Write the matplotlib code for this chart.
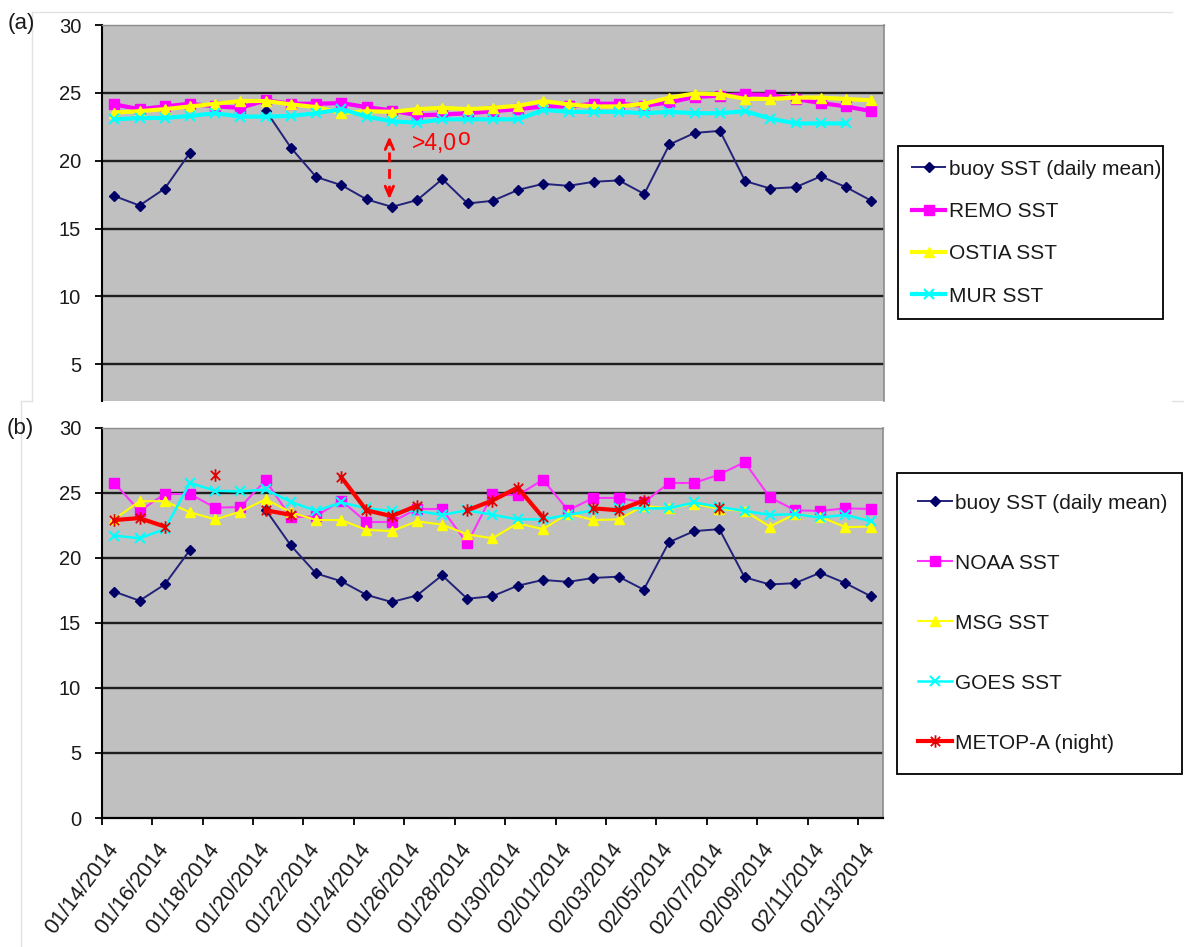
import matplotlib
matplotlib.use("Agg")
import matplotlib.pyplot as plt
import numpy as np
from matplotlib.path import Path
from matplotlib.lines import Line2D

plt.rcParams["font.family"] = ["Liberation Sans", "DejaVu Sans"]

nan = np.nan

# daily categories 01/14/2014 .. 02/13/2014, labelled every second day
tick_labels = ["01/14/2014", "01/16/2014", "01/18/2014", "01/20/2014", "01/22/2014",
               "01/24/2014", "01/26/2014", "01/28/2014", "01/30/2014", "02/01/2014",
               "02/03/2014", "02/05/2014", "02/07/2014", "02/09/2014", "02/11/2014",
               "02/13/2014"]

buoy = [17.4, 16.7, 17.95, 20.6, nan, nan, 23.7, 20.95, 18.8, 18.2, 17.15, 16.6, 17.1,
        18.65, 16.85, 17.05, 17.85, 18.3, 18.15, 18.45, 18.55, 17.55, 21.2, 22.05, 22.2,
        18.5, 17.95, 18.05, 18.85, 18.05, 17.05]

remo = [24.15, 23.8, 24.0, 24.2, 24.0, 23.9, 24.45, 24.2, 24.2, 24.25, 23.95, 23.7, 23.35,
        23.4, 23.5, 23.65, 23.8, 24.0, 24.0, 24.2, 24.2, 24.05, 24.3, 24.7, 24.8, 24.9,
        24.85, 24.55, 24.25, 24.0, 23.65]

ostia = [23.55, 23.65, 23.8, 24.0, 24.2, 24.4, 24.4, 24.15, 23.95, 23.5, 23.65, 23.6, 23.8,
         23.9, 23.8, 23.9, 24.05, 24.4, 24.15, 24.0, 24.0, 24.2, 24.65, 24.95, 24.9, 24.55,
         24.55, 24.65, 24.65, 24.55, 24.45]

mur = [23.05, 23.15, 23.15, 23.3, 23.5, 23.25, 23.25, 23.3, 23.5, 23.8, 23.25, 22.9, 22.8,
       23.05, 23.05, 23.05, 23.05, 23.75, 23.6, 23.6, 23.6, 23.5, 23.6, 23.5, 23.5, 23.65,
       23.1, 22.75, 22.75, 22.75, nan]

noaa = [25.75, 23.6, 24.9, 24.9, 23.85, 23.9, 25.95, 23.1, 23.2, 24.4, 22.75, 22.75, 23.75,
        23.75, 21.1, 24.9, 24.8, 26.0, 23.65, 24.6, 24.6, 24.25, 25.75, 25.75, 26.4, 27.35,
        24.65, 23.65, 23.6, 23.8, 23.75]

msg = [22.95, 24.35, 24.35, 23.5, 22.95, 23.55, 24.5, 23.5, 22.9, 22.9, 22.15, 22.05, 22.8,
       22.55, 21.8, 21.5, 22.65, 22.2, 23.4, 22.9, 22.95, 24.0, 23.8, 24.15, 23.75, 23.6,
       22.4, 23.35, 23.15, 22.35, 22.4]

goes = [21.7, 21.5, 22.2, 25.75, 25.15, 25.1, 25.25, 24.3, 23.6, 24.25, 23.8, 23.6, 23.6,
        23.3, 23.65, 23.3, 22.95, 22.95, 23.3, 23.65, 23.8, 23.8, 23.8, 24.25, 23.9, 23.6,
        23.3, 23.35, 23.1, 23.3, 22.8]

metop = [22.9, 23.05, 22.4, nan, 26.4, nan, 23.65, 23.3, nan, 26.2, 23.65, 23.2, 24.0, nan,
         23.65, 24.4, 25.4, 23.1, nan, 23.8, 23.65, 24.4, nan, nan, 23.8, nan, nan, nan, nan,
         nan, nan]

n_days = len(buoy)
x = np.arange(n_days)

# asterisk marker: vertical bar plus an X
star = Path([(0, -1), (0, 1), (-0.75, -0.75), (0.75, 0.75), (-0.75, 0.75), (0.75, -0.75)],
            [Path.MOVETO, Path.LINETO] * 3)

TXT = "#1a1a1a"
FS_TICK = 14.5
FS_XLAB = 15.5
FS_LEG = 15

fig = plt.figure(figsize=(11.84, 9.47), dpi=100)
fig.patch.set_facecolor("white")

ax_a = fig.add_axes([0.0859, 0.5766, 0.6607, 0.3970])
ax_b = fig.add_axes([0.0859, 0.1362, 0.6601, 0.4122])


def style_axes(ax, ymin, yticks, show_bottom):
    ax.set_facecolor("#C0C0C0")
    ax.set_xlim(-0.5, n_days - 0.5)
    ax.set_ylim(ymin, 30)
    ax.set_yticks(yticks)
    ax.set_yticklabels([str(v) for v in yticks])
    for v in yticks:
        if 0 < v < 30:
            ax.axhline(v, color="#1e1e1e", lw=1.7, zorder=1)
    ax.spines["left"].set_color("black")
    ax.spines["left"].set_linewidth(1.5)
    ax.spines["top"].set_color("#8c8c8c")
    ax.spines["top"].set_linewidth(1.0)
    ax.spines["right"].set_color("#8c8c8c")
    ax.spines["right"].set_linewidth(1.2)
    if show_bottom:
        ax.spines["bottom"].set_color("black")
        ax.spines["bottom"].set_linewidth(1.6)
    else:
        ax.spines["bottom"].set_visible(False)
    ax.tick_params(axis="y", direction="out", length=4.8, width=1.3, color="black",
                   pad=10, labelsize=FS_TICK, labelcolor=TXT)


style_axes(ax_a, 2.3, [5, 10, 15, 20, 25, 30], False)
style_axes(ax_b, 0, [0, 5, 10, 15, 20, 25, 30], True)

ax_a.set_xticks([])

ax_b.set_xticks(np.arange(0, n_days, 2))
ax_b.set_xticklabels(tick_labels, rotation=53, ha="right", va="center",
                     rotation_mode="anchor")
ax_b.set_xticks(np.arange(-0.5, n_days - 1, 2), minor=True)
ax_b.tick_params(axis="x", which="major", length=0, pad=20, labelsize=FS_XLAB,
                 labelcolor=TXT)
ax_b.tick_params(axis="x", which="minor", direction="out", length=5, width=1.3,
                 color="black")

# ---- panel (a): buoy vs model / analysis products
ax_a.plot(x, buoy, color="#22227a", lw=1.4, marker="D", ms=4.8, mfc="#000066",
          mec="#000066", label="buoy SST (daily mean)", zorder=3)
ax_a.plot(x, remo, color="#FF00FF", lw=3.0, marker="s", ms=6.5, mfc="#FF00FF",
          mec="#FF00FF", label="REMO SST", zorder=4)
ax_a.plot(x, ostia, color="#FFFF00", lw=3.0, marker="^", ms=7, mfc="#FFFF00",
          mec="#FFFF00", label="OSTIA SST", zorder=5)
ax_a.plot(x, mur, color="#00FFFF", lw=3.0, marker="x", ms=7, mew=1.5, mec="#00FFFF",
          label="MUR SST", zorder=6)

# difference marker between buoy and products
arrow_x = 10.9
arrow_lo, arrow_hi = 17.15, 21.8
ax_a.plot([arrow_x, arrow_x], [arrow_lo + 0.35, arrow_hi - 0.35], color="red", lw=2,
          ls=(0, (3.5, 2.5)), zorder=7)
for tip, base in [(arrow_hi, arrow_hi - 0.6), (arrow_lo, arrow_lo + 0.6)]:
    ax_a.annotate("", xy=(arrow_x, tip), xytext=(arrow_x, base),
                  arrowprops=dict(arrowstyle="->,head_width=0.3,head_length=0.7",
                                  color="red", lw=2, shrinkA=0, shrinkB=0), zorder=7)
t_diff = ax_a.text(11.8, 20.79, ">4,0", color="red", fontsize=16.5, ha="left",
                   va="baseline", zorder=8)
ax_a.annotate("o", xy=(1, 0), xycoords=t_diff, xytext=(0.5, 3.6),
              textcoords="offset points", color="red", fontsize=16.5, ha="left",
              va="bottom", zorder=8)

# ---- panel (b): buoy vs satellite products
ax_b.plot(x, buoy, color="#22227a", lw=1.4, marker="D", ms=4.8, mfc="#000066",
          mec="#000066", label="buoy SST (daily mean)", zorder=3)
ax_b.plot(x, noaa, color="#FF33FF", lw=1.5, marker="s", ms=7, mfc="#FF00FF",
          mec="#FF00FF", label="NOAA SST", zorder=4)
ax_b.plot(x, msg, color="#FFFF00", lw=1.5, marker="^", ms=7, mfc="#FFFF00",
          mec="#FFFF00", label="MSG SST", zorder=5)
ax_b.plot(x, goes, color="#00FFFF", lw=1.8, marker="x", ms=7, mew=1.5, mec="#00FFFF",
          label="GOES SST", zorder=6)
ax_b.plot(x, metop, color="#FF0000", lw=3.0, marker=star, ms=9, mew=1.3, mec="#E00000",
          label="METOP-A (night)", zorder=7)

# legends
leg_a = ax_a.legend(loc="upper left", bbox_to_anchor=(0.7587, 0.8458 - 0.3, 0.2233, 0.3),
                    bbox_transform=fig.transFigure, mode="expand", fontsize=FS_LEG,
                    frameon=True, fancybox=False, framealpha=1, edgecolor="black",
                    borderpad=0.65, labelspacing=1.12, handlelength=1.6,
                    handletextpad=0.2, borderaxespad=0, numpoints=1)
leg_a.get_frame().set_linewidth(1.3)
for t in leg_a.get_texts():
    t.set_color(TXT)

leg_b = ax_b.legend(loc="upper left", bbox_to_anchor=(0.7574, 0.5008 - 0.35, 0.241, 0.35),
                    bbox_transform=fig.transFigure, mode="expand", fontsize=FS_LEG,
                    frameon=True, fancybox=False, framealpha=1, edgecolor="black",
                    borderpad=1.0, labelspacing=1.97, handlelength=1.63,
                    handletextpad=0.15, borderaxespad=0, numpoints=1)
leg_b.get_frame().set_linewidth(1.3)
for t in leg_b.get_texts():
    t.set_color(TXT)

# panel tags
fig.text(8 / 1184, 1 - 24 / 947, "(a)", fontsize=16, color=TXT, ha="left", va="center")
fig.text(7 / 1184, 1 - 428 / 947, "(b)", fontsize=16, color=TXT, ha="left", va="center")

# faint frame lines around the chart areas
W, H = 1184, 947
frame = "#e2e2e2"
for (x0, y0), (x1, y1) in [((32, 12), (1172, 12)), ((32, 12), (32, 401)),
                           ((20.5, 401), (32, 401)), ((20.5, 401), (20.5, 947)),
                           ((1172, 401), (1184, 401))]:
    fig.add_artist(Line2D([x0 / W, x1 / W], [1 - y0 / H, 1 - y1 / H], color=frame,
                          lw=1.0, transform=fig.transFigure))

fig.savefig("out.png", dpi=100, facecolor="white")
